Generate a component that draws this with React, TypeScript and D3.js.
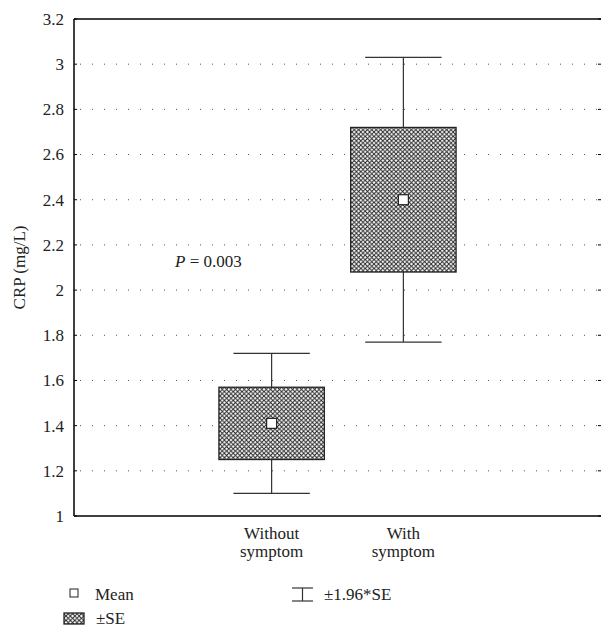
import React from "react";
import * as d3 from "d3";

const categories = ["Without symptom", "With symptom"];
const categoryLines = [["Without", "symptom"], ["With", "symptom"]];
const means = [1.41, 2.4];
const seLow = [1.25, 2.08];
const seHigh = [1.57, 2.72];
const ciLow = [1.1, 1.77];
const ciHigh = [1.72, 3.03];
const yTicks = [1, 1.2, 1.4, 1.6, 1.8, 2, 2.2, 2.4, 2.6, 2.8, 3, 3.2];
const yTickLabels = ["1", "1.2", "1.4", "1.6", "1.8", "2", "2.2", "2.4", "2.6", "2.8", "3", "3.2"];

const width = 603;
const height = 628;
const margin = { left: 74, right: 2, top: 19, bottom: 112 };
const font = "'Liberation Serif', 'Times New Roman', Times, serif";
const fs = 17;

export default function App() {
  const innerW = width - margin.left - margin.right;
  const x = d3
    .scaleBand<string>()
    .domain(["_a", ...categories, "_b"])
    .range([margin.left, margin.left + innerW]);
  const y = d3
    .scaleLinear()
    .domain([1, 3.2])
    .range([height - margin.bottom, margin.top]);

  const bw = x.bandwidth();
  const boxW = bw * 0.8;
  const capW = bw * 0.58;
  const x0 = margin.left;
  const x1 = margin.left + innerW;
  const txt = { fontSize: fs, fontFamily: font, fill: "#222" };

  return (
    <svg
      width={width}
      height={height}
      style={{ position: "absolute", left: 0, top: 0, fontFamily: font }}
    >
      <defs>
        <pattern id="hatch" width={4.4} height={4.4} patternUnits="userSpaceOnUse">
          <rect width={4.4} height={4.4} fill="#fff" />
          <path d="M0,0 L4.4,4.4 M4.4,0 L0,4.4" stroke="#222" strokeWidth={0.95} />
        </pattern>
      </defs>
      <rect width={width} height={height} fill="#fff" />

      {/* gridlines */}
      {yTicks.slice(1, -1).map((t) => (
        <line
          key={t}
          x1={x0 + 6}
          x2={x1 - 4}
          y1={y(t)}
          y2={y(t)}
          stroke="#555"
          strokeWidth={1}
          strokeDasharray="1,11"
        />
      ))}

      {/* ticks */}
      {yTicks.map((t, i) => (
        <g key={t}>
          <line x1={x0} x2={x0 + 3} y1={y(t)} y2={y(t)} stroke="#000" />
          <line x1={x1 - 3} x2={x1} y1={y(t)} y2={y(t)} stroke="#000" />
          <text x={x0 - 10} y={y(t)} dy="0.35em" textAnchor="end" style={txt}>
            {yTickLabels[i]}
          </text>
        </g>
      ))}

      {/* axes frame */}
      <line x1={x0} x2={x0} y1={y(1)} y2={y(3.2)} stroke="#000" strokeWidth={1.5} />
      <line x1={x0} x2={x1} y1={y(1)} y2={y(1)} stroke="#000" strokeWidth={1.5} />
      <line x1={x0} x2={x1} y1={y(3.2)} y2={y(3.2)} stroke="#000" strokeWidth={1.5} />

      <text
        transform={`translate(25,${(y(1) + y(3.2)) / 2}) rotate(-90)`}
        textAnchor="middle"
        style={txt}
      >
        CRP (mg/L)
      </text>

      {/* boxes */}
      {categories.map((c, i) => {
        const cx = (x(c) as number) + bw / 2;
        return (
          <g key={c}>
            <line x1={cx} x2={cx} y1={y(ciHigh[i])} y2={y(ciLow[i])} stroke="#333" strokeWidth={1.2} />
            <line x1={cx - capW / 2} x2={cx + capW / 2} y1={y(ciHigh[i])} y2={y(ciHigh[i])} stroke="#333" strokeWidth={1.2} />
            <line x1={cx - capW / 2} x2={cx + capW / 2} y1={y(ciLow[i])} y2={y(ciLow[i])} stroke="#333" strokeWidth={1.2} />
            <rect
              x={cx - boxW / 2}
              y={y(seHigh[i])}
              width={boxW}
              height={y(seLow[i]) - y(seHigh[i])}
              fill="url(#hatch)"
              stroke="#222"
              strokeWidth={1.3}
            />
            <rect
              x={cx - 5}
              y={y(means[i]) - 5}
              width={10}
              height={10}
              fill="#fff"
              stroke="#222"
              strokeWidth={1.2}
            />
            {categoryLines[i].map((ln, j) => (
              <text key={j} x={cx} y={y(1) + 23 + j * 18} textAnchor="middle" style={txt}>
                {ln}
              </text>
            ))}
          </g>
        );
      })}

      <text x={175} y={267} style={txt}>
        <tspan fontStyle="italic">P</tspan> = 0.003
      </text>

      {/* legend */}
      <rect x={70} y={589} width={8} height={8} fill="#fff" stroke="#222" />
      <text x={95} y={600} style={txt}>Mean</text>
      <rect x={64} y={613} width={20} height={11} fill="url(#hatch)" stroke="#222" strokeWidth={1.3} />
      <text x={96} y={624} style={txt}>±SE</text>
      <line x1={292} x2={313} y1={588} y2={588} stroke="#333" strokeWidth={1.2} />
      <line x1={292} x2={313} y1={601} y2={601} stroke="#333" strokeWidth={1.2} />
      <line x1={302.5} x2={302.5} y1={588} y2={601} stroke="#333" strokeWidth={1.2} />
      <text x={324} y={600} style={txt}>±1.96*SE</text>
    </svg>
  );
}
